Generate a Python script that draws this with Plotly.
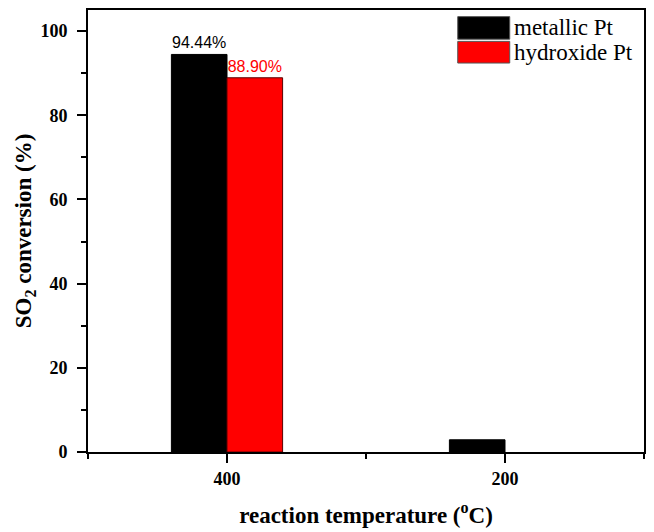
import plotly.graph_objects as go

categories = ["400", "200"]
metallic = [94.44, 2.9]
hydroxide = [88.90, 0.0]
metallic_labels = ["94.44%", ""]
hydroxide_labels = ["88.90%", ""]
series_names = ["metallic Pt", "hydroxide Pt"]
y_ticks = [0, 20, 40, 60, 80, 100]

xpos = list(range(len(categories)))
SERIF = "Liberation Serif"

fig = go.Figure()
fig.add_trace(go.Bar(
    x=xpos, y=metallic, name=series_names[0],
    marker=dict(color="black", line=dict(color="black", width=1)),
    text=metallic_labels, textposition="outside", constraintext="none",
    textfont=dict(family="Liberation Sans", size=16, color="black"),
    cliponaxis=False, showlegend=False,
))
fig.add_trace(go.Bar(
    x=xpos, y=hydroxide, name=series_names[1],
    marker=dict(color="#ff0000",
                line=dict(color="#5a0000", width=[1 if v > 0 else 0 for v in hydroxide])),
    text=hydroxide_labels, textposition="outside", constraintext="none",
    textfont=dict(family="Liberation Sans", size=16, color="#ff0000"),
    cliponaxis=False, showlegend=False,
))

# custom legend (large swatches like the original)
legend_colors = [("black", "#555555"), ("#ff0000", "#555555")]
box_x0, box_x1 = 0.665, 0.7585
rows = [(0.985, 0.934), (0.929, 0.880)]
shapes = []
annotations = []
for (fill, edge), (y1, y0), name in zip(legend_colors, rows, series_names):
    shapes.append(dict(type="rect", xref="paper", yref="paper",
                       x0=box_x0, x1=box_x1, y0=y0, y1=y1,
                       fillcolor=fill, line=dict(color=edge, width=1)))
    annotations.append(dict(xref="paper", yref="paper", x=box_x1 + 0.004,
                            y=(y0 + y1) / 2, text=name, showarrow=False,
                            xanchor="left", yanchor="middle",
                            font=dict(family=SERIF, size=23, color="black")))

fig.update_layout(
    width=654, height=532,
    margin=dict(l=88, r=8, t=9, b=74),
    paper_bgcolor="white", plot_bgcolor="white",
    barmode="group", bargap=0.6, bargroupgap=0,
    shapes=shapes, annotations=annotations,
    font=dict(family=SERIF, color="black"),
)
fig.update_xaxes(
    range=[-0.5, 1.5], tickmode="array", tickvals=xpos, ticktext=categories,
    ticks="outside", ticklen=9, tickwidth=1.8, tickcolor="black",
    minor=dict(tick0=-0.5, dtick=0.5, ticks="outside", ticklen=5, tickwidth=1.8, tickcolor="black"),
    showline=True, linecolor="black", linewidth=1.8, mirror=True,
    showgrid=False, zeroline=False,
    tickfont=dict(family=SERIF, size=18, color="black", weight="bold"),
    title=dict(text="reaction temperature (<sup>o</sup>C)", standoff=19,
               font=dict(family=SERIF, size=23, color="black", weight="bold")),
)
fig.update_yaxes(
    range=[0, 105], tickmode="array", tickvals=y_ticks,
    ticks="outside", ticklen=9, tickwidth=1.8, tickcolor="black",
    minor=dict(dtick=10, ticks="outside", ticklen=5, tickwidth=1.8, tickcolor="black"),
    showline=True, linecolor="black", linewidth=1.8, mirror=True,
    showgrid=False, zeroline=False, ticklabelstandoff=6,
    tickfont=dict(family=SERIF, size=18, color="black", weight="bold"),
    title=dict(text="SO<sub>2</sub> conversion (%)", standoff=2,
               font=dict(family=SERIF, size=23, color="black", weight="bold")),
)

fig.write_html("out.html")
